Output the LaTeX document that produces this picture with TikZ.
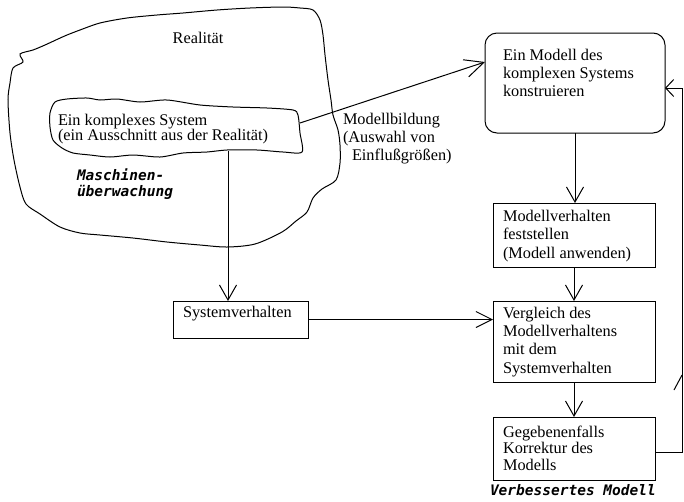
\documentclass[tikz,border=0pt]{standalone}
\usepackage{fontspec}
\setmainfont{Liberation Serif}
\newfontfamily\pixfont{DejaVu Sans Mono}
\usetikzlibrary{arrows.meta,calc}
\begin{document}
\begin{tikzpicture}[x=1pt,y=-1pt,line width=1pt,
  every node/.style={inner sep=0pt,outer sep=0pt},
  boxnode/.style={draw,rectangle,anchor=north west},
  txt/.style={anchor=north west,align=left,font=\fontsize{16.3}{18.3}\selectfont},
  pix/.style={align=left,font=\pixfont\bfseries\itshape\fontsize{14.5}{16}\selectfont},
  cloud/.style={draw,line width=1pt},
  barb/.style={-{Straight Barb[length=15pt,width=17pt]}},
  diagbarb/.style={-{Straight Barb[length=19pt,width=18pt]}},
  fbbarb/.style={-{Straight Barb[length=8pt,width=17pt]}}]
\fill[white] (0,0) rectangle (684,501);
\useasboundingbox (0,0) rectangle (684,501);

% big cloud: Realitaet
\draw[cloud] plot[smooth cycle,tension=0.5] coordinates {
 (58,39) (67,35) (80,30) (100,23) (127,18) (157,15) (183,13) (217,10) (250,8)
 (283,7) (300,8) (313,10) (320,20) (323,35) (325,55) (328,80) (331,100) (333,115)
 (338,130) (340,145) (340,163) (336,180) (322,189) (313,198) (307,212) (296,221)
 (282,232) (255,244) (227,247) (200,245) (167,242) (133,238) (100,235) (80,233)
 (60,227) (40,214) (26,204) (20,187) (14,160) (10,133) (8,100) (10,83) (13,68)
 (23,62) (20,54) (33,50) (45,45)};

% inner cloud: komplexes System
\draw[cloud] plot[smooth cycle,tension=0.45] coordinates {
 (55,102) (67,99) (87,98) (100,100) (117,99) (140,102) (167,100) (200,105)
 (233,107) (267,108) (293,110) (298,115) (300,133) (302,152) (283,152) (257,150)
 (227,150) (207,152) (183,153) (160,157) (133,155) (110,157) (90,155) (73,153)
 (62,148) (53,140) (50,127) (50,113)};

\node[anchor=base,font=\fontsize{16.3}{18}\selectfont] (real) at (198,43) {Realität};
\node[txt,font=\fontsize{16.3}{15}\selectfont] (komp) at (58,114)
  {Ein komplexes System\\(ein Ausschnitt aus der Realität)};
\node[pix,anchor=north west] (masch) at (77,169) {Maschinen-\\überwachung};
\node[txt] (bild) at (343,113)
  {Modellbildung\\(Auswahl von\\\hspace*{9pt}Einflußgrößen)};

\coordinate (sysout) at (300,123);
\coordinate (sysbot) at (228,151);

% boxes
\node[boxnode,rounded corners=12pt,minimum width=180pt,minimum height=100pt] (model) at (485,33) {};
\node[boxnode,minimum width=162pt,minimum height=64pt] (mv) at (493,203) {};
\node[boxnode,minimum width=162pt,minimum height=81pt] (verg) at (493,301) {};
\node[boxnode,minimum width=162pt,minimum height=63pt] (korr) at (493,417) {};
\node[boxnode,minimum width=135pt,minimum height=37pt] (sys) at (173,301) {};

\node[txt,font=\fontsize{16.3}{18}\selectfont] (tmodel) at (503,49)
  {Ein Modell des\\komplexen Systems\\konstruieren};
\node[txt,font=\fontsize{16.3}{18.5}\selectfont] (tmv) at (503,210)
  {Modellverhalten\\feststellen\\(Modell anwenden)};
\node[txt] (tverg) at (503,307)
  {Vergleich des\\Modellverhaltens\\mit dem\\Systemverhalten};
\node[txt,font=\fontsize{16.3}{16.5}\selectfont] (tkorr) at (503,426)
  {Gegebenenfalls\\Korrektur des\\Modells};
\node[txt] (tsys) at (183,306) {Systemverhalten};
\node[pix,anchor=base west] (verb) at (490,495) {Verbessertes Modell};

% connectors
\draw[diagbarb] (sysout) -- ($(model.north west)!0.29!(model.south west)$);
\draw[barb] (sysbot) -- (sysbot |- sys.north);
\draw[barb] (model.south) -- (model.south |- mv.north);
\draw[barb] (mv.south) -- (mv.south |- verg.north);
\draw[barb] (verg.south) -- (verg.south |- korr.north);
\draw[-{Straight Barb[length=16pt,width=16pt]}] (sys.east) -- (sys.east -| verg.west);
\draw[fbbarb] ([yshift=-3.5pt]korr.east) -- ++(27,0) coordinate (fbc) |- ([yshift=-5pt]model.east);
\coordinate (tick) at (682,375);
\draw (tick) -- ++(-8,15);
\end{tikzpicture}
\end{document}
